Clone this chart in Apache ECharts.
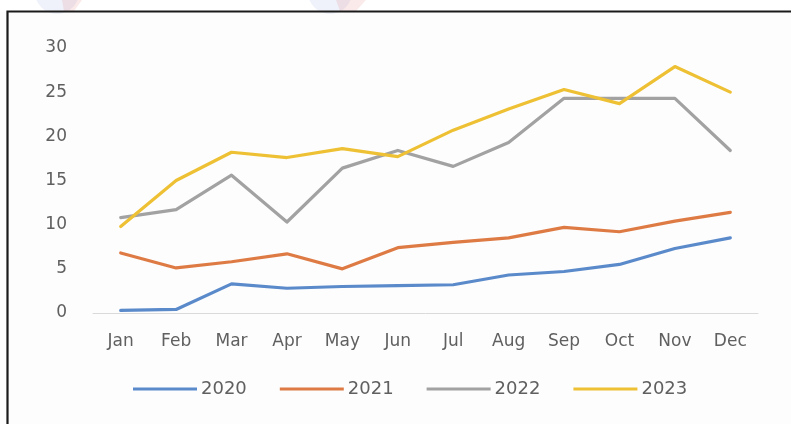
<!DOCTYPE html>
<html>
<head>
<meta charset="utf-8">
<script src="https://cdn.jsdelivr.net/npm/echarts@6/dist/echarts.min.js"></script>
<style>
  html, body { margin: 0; padding: 0; background: #ffffff; }
  #chart { width: 791px; height: 424px; }
</style>
</head>
<body>
<div id="chart"></div>
<script>
// Monthly values per year
const months = ['Jan', 'Feb', 'Mar', 'Apr', 'May', 'Jun', 'Jul', 'Aug', 'Sep', 'Oct', 'Nov', 'Dec'];
const years = ['2020', '2021', '2022', '2023'];
const values2020 = [0.3, 0.4, 3.3, 2.8, 3.0, 3.1, 3.2, 4.3, 4.7, 5.5, 7.3, 8.5];
const values2021 = [6.8, 5.1, 5.8, 6.7, 5.0, 7.4, 8.0, 8.5, 9.7, 9.2, 10.4, 11.4];
const values2022 = [10.8, 11.7, 15.6, 10.3, 16.4, 18.4, 16.6, 19.3, 24.3, 24.3, 24.3, 18.4];
const values2023 = [9.8, 15.0, 18.2, 17.6, 18.6, 17.7, 20.7, 23.1, 25.3, 23.7, 27.9, 25.0];
const yTicks = [0, 5, 10, 15, 20, 25, 30];

const seriesValues = [values2020, values2021, values2022, values2023];
const colors = ['#5B8ACB', '#DE7B45', '#A2A2A2', '#EEC034'];
const textColor = '#606060';
const fontFamily = '"DejaVu Sans", "Open Sans", sans-serif';

const chart = echarts.init(document.getElementById('chart'), null, { renderer: 'canvas' });

chart.setOption({
  animation: false,
  backgroundColor: '#ffffff',
  color: colors,
  grid: { left: 93, right: 33, top: 48, bottom: 111, containLabel: false },
  xAxis: {
    type: 'category',
    data: months,
    boundaryGap: true,
    axisLine: { show: true, lineStyle: { color: '#dadada', width: 1 } },
    axisTick: { show: false },
    axisLabel: { color: textColor, fontSize: 17, fontFamily: fontFamily, margin: 20 }
  },
  yAxis: {
    type: 'value',
    min: yTicks[0],
    max: yTicks[yTicks.length - 1],
    interval: 5,
    axisLine: { show: false },
    axisTick: { show: false },
    splitLine: { show: false },
    axisLabel: { color: textColor, fontSize: 17, fontFamily: fontFamily, margin: 26 }
  },
  legend: {
    data: years,
    top: 375,
    left: 128,
    itemWidth: 64,
    itemHeight: 3,
    itemGap: 33,
    icon: 'rect',
    textStyle: { color: textColor, fontSize: 18, fontFamily: fontFamily, padding: [0, 0, 0, -1] }
  },
  series: years.map((name, i) => ({
    name: name,
    type: 'line',
    data: seriesValues[i],
    symbol: 'none',
    lineStyle: { width: 3.2, color: colors[i], cap: 'round', join: 'round' },
    z: 2 + i
  })),
  graphic: [
    // faint emblem shapes peeking above the frame
    { type: 'circle', shape: { cx: 57, cy: -8, r: 22 }, style: { fill: 'rgba(120,150,215,0.12)' }, z: 1 },
    { type: 'polygon', shape: { points: [[62, 0], [82, 0], [74, 11], [64, 11]] }, style: { fill: 'rgba(225,80,80,0.12)' }, z: 1 },
    { type: 'circle', shape: { cx: 330, cy: -8, r: 22 }, style: { fill: 'rgba(120,150,215,0.12)' }, z: 1 },
    { type: 'polygon', shape: { points: [[336, 0], [366, 0], [356, 11], [340, 11]] }, style: { fill: 'rgba(225,80,80,0.12)' }, z: 1 },
    // panel background and the frame on its left and top edges
    { type: 'rect', shape: { x: 0, y: 12, width: 791, height: 412 }, style: { fill: '#fdfdfd' }, z: 0, silent: true },
    { type: 'polyline', shape: { points: [[7.5, 424], [7.5, 11.5], [791, 11.5]] }, style: { stroke: '#1a1a1a', lineWidth: 2.2, fill: null }, z: 10 }
  ]
});
</script>
</body>
</html>
